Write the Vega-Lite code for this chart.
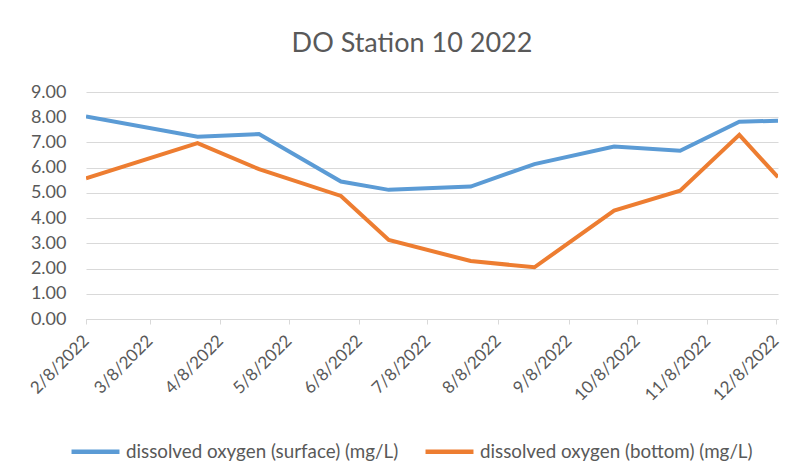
{
  "$schema": "https://vega.github.io/schema/vega-lite/v6.json",
  "width": 692,
  "height": 227,
  "autosize": {"type": "none"},
  "padding": {"left": 86, "top": 92, "right": 28, "bottom": 152},
  "background": "white",
  "title": {
    "text": "DO Station 10 2022",
    "font": "Lato",
    "fontSize": 27,
    "fontWeight": "normal",
    "color": "#595959",
    "anchor": "middle",
    "dx": -20,
    "offset": 25
  },
  "data": {
    "values": [
      {"date": "2022-02-08", "series": "dissolved oxygen (surface) (mg/L)", "value": 8.03},
      {"date": "2022-03-29", "series": "dissolved oxygen (surface) (mg/L)", "value": 7.23},
      {"date": "2022-04-25", "series": "dissolved oxygen (surface) (mg/L)", "value": 7.33},
      {"date": "2022-05-31", "series": "dissolved oxygen (surface) (mg/L)", "value": 5.45},
      {"date": "2022-06-21", "series": "dissolved oxygen (surface) (mg/L)", "value": 5.12},
      {"date": "2022-07-27", "series": "dissolved oxygen (surface) (mg/L)", "value": 5.25},
      {"date": "2022-08-24", "series": "dissolved oxygen (surface) (mg/L)", "value": 6.14},
      {"date": "2022-09-28", "series": "dissolved oxygen (surface) (mg/L)", "value": 6.84},
      {"date": "2022-10-27", "series": "dissolved oxygen (surface) (mg/L)", "value": 6.67},
      {"date": "2022-11-22", "series": "dissolved oxygen (surface) (mg/L)", "value": 7.82},
      {"date": "2022-12-09", "series": "dissolved oxygen (surface) (mg/L)", "value": 7.86},
      {"date": "2022-02-08", "series": "dissolved oxygen (bottom) (mg/L)", "value": 5.58},
      {"date": "2022-03-29", "series": "dissolved oxygen (bottom) (mg/L)", "value": 6.97},
      {"date": "2022-04-25", "series": "dissolved oxygen (bottom) (mg/L)", "value": 5.94},
      {"date": "2022-05-31", "series": "dissolved oxygen (bottom) (mg/L)", "value": 4.88},
      {"date": "2022-06-21", "series": "dissolved oxygen (bottom) (mg/L)", "value": 3.13},
      {"date": "2022-07-27", "series": "dissolved oxygen (bottom) (mg/L)", "value": 2.30},
      {"date": "2022-08-24", "series": "dissolved oxygen (bottom) (mg/L)", "value": 2.05},
      {"date": "2022-09-28", "series": "dissolved oxygen (bottom) (mg/L)", "value": 4.30},
      {"date": "2022-10-27", "series": "dissolved oxygen (bottom) (mg/L)", "value": 5.09},
      {"date": "2022-11-22", "series": "dissolved oxygen (bottom) (mg/L)", "value": 7.30},
      {"date": "2022-12-09", "series": "dissolved oxygen (bottom) (mg/L)", "value": 5.62}
    ]
  },
  "mark": {"type": "line", "strokeWidth": 4, "strokeJoin": "miter", "clip": true},
  "encoding": {
    "x": {
      "field": "date",
      "type": "temporal",
      "scale": {
        "type": "utc",
        "domain": [
          {"year": 2022, "month": 2, "date": 8, "utc": true},
          {"year": 2022, "month": 12, "date": 9, "utc": true}
        ]
      },
      "axis": {
        "title": null,
        "grid": false,
        "values": [
          {"year": 2022, "month": 2, "date": 8, "utc": true},
          {"year": 2022, "month": 3, "date": 8, "utc": true},
          {"year": 2022, "month": 4, "date": 8, "utc": true},
          {"year": 2022, "month": 5, "date": 8, "utc": true},
          {"year": 2022, "month": 6, "date": 8, "utc": true},
          {"year": 2022, "month": 7, "date": 8, "utc": true},
          {"year": 2022, "month": 8, "date": 8, "utc": true},
          {"year": 2022, "month": 9, "date": 8, "utc": true},
          {"year": 2022, "month": 10, "date": 8, "utc": true},
          {"year": 2022, "month": 11, "date": 8, "utc": true},
          {"year": 2022, "month": 12, "date": 8, "utc": true}
        ],
        "format": "%-m/%-d/%Y",
        "labelAngle": -45,
        "labelAlign": "right",
        "labelBaseline": "middle",
        "labelFont": "Lato",
        "labelFontSize": 17,
        "labelColor": "#595959",
        "labelPadding": 14,
        "labelOverlap": false,
        "labelFlush": false,
        "domainColor": "#d9d9d9",
        "domainWidth": 1,
        "tickColor": "#d9d9d9",
        "tickSize": 5
      }
    },
    "y": {
      "field": "value",
      "type": "quantitative",
      "scale": {"domain": [0, 9], "nice": false},
      "axis": {
        "title": null,
        "values": [0, 1, 2, 3, 4, 5, 6, 7, 8, 9],
        "format": ".2f",
        "domain": false,
        "ticks": false,
        "grid": true,
        "gridColor": "#d9d9d9",
        "gridWidth": 1,
        "labelFont": "Lato",
        "labelFontSize": 18,
        "labelColor": "#595959",
        "labelPadding": 20
      }
    },
    "color": {
      "field": "series",
      "type": "nominal",
      "scale": {
        "domain": ["dissolved oxygen (surface) (mg/L)", "dissolved oxygen (bottom) (mg/L)"],
        "range": ["#5b9bd5", "#ed7d31"]
      },
      "legend": {
        "title": null,
        "orient": "none",
        "direction": "horizontal",
        "legendX": -17,
        "legendY": 333,
        "symbolType": "stroke",
        "symbolSize": 2300,
        "symbolStrokeWidth": 4.5,
        "labelFont": "Lato",
        "labelFontSize": 18.8,
        "labelColor": "#595959",
        "labelOffset": 4,
        "columnPadding": 17,
        "labelLimit": 500
      }
    }
  },
  "config": {"view": {"stroke": null}}
}
